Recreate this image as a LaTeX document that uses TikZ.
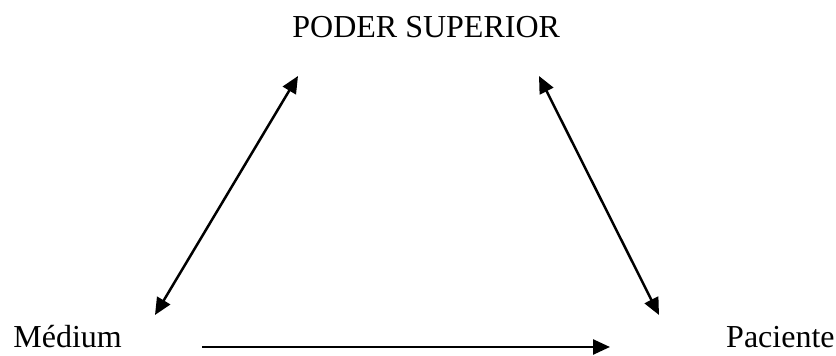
\documentclass[tikz,border=0pt]{standalone}
\usepackage{fontspec}
\setmainfont{Liberation Serif}
\usetikzlibrary{arrows.meta}
\begin{document}
\begin{tikzpicture}[x=0.5pt,y=-0.5pt,
  label/.style={inner sep=0pt,font=\fontsize{16}{19}\selectfont},
  tip/.style={Triangle[length=8.5pt,width=7.5pt]},
  link/.style={line width=1.25pt,-{Triangle[length=8.5pt,width=7.5pt]}},
  dlink/.style={line width=1.25pt,{Triangle[length=8.5pt,width=7.5pt]}-{Triangle[length=8.5pt,width=7.5pt]}}]
  \useasboundingbox (0,0) rectangle (836,356);
  % labels
  \node[label,anchor=base west] (top) at (292,38) {PODER SUPERIOR};
  \node[label,anchor=base west] (med) at (13,348) {Médium};
  \node[label,anchor=base east] (pac) at (835,348) {Paciente};
  % arrow end points
  \coordinate (l1) at (155,315);
  \coordinate (l2) at (298,76);
  \coordinate (r1) at (539,76);
  \coordinate (r2) at (659,315);
  \coordinate (b1) at (202,347);
  \coordinate (b2) at (610,347);
  % connectors
  \draw[dlink] (l1) -- (l2);
  \draw[dlink] (r1) -- (r2);
  \draw[link] (b1) -- (b2);
\end{tikzpicture}
\end{document}
